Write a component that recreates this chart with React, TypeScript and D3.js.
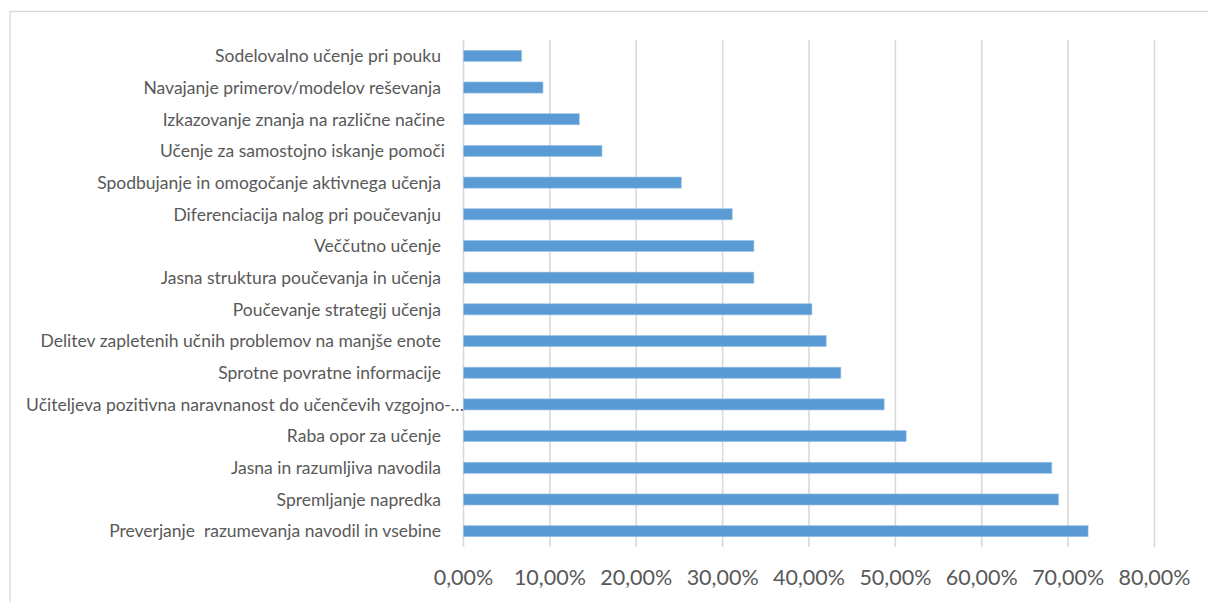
import React from "react";
import * as d3 from "d3";

// Categories, top to bottom
const categories: string[] = [
  "Sodelovalno učenje pri pouku ",
  "Navajanje primerov/modelov reševanja ",
  "Izkazovanje znanja na različne načine",
  "Učenje za samostojno iskanje pomoči",
  "Spodbujanje in omogočanje aktivnega učenja ",
  "Diferenciacija nalog pri poučevanju ",
  "Veččutno učenje ",
  "Jasna struktura poučevanja in učenja ",
  "Poučevanje strategij učenja ",
  "Delitev zapletenih učnih problemov na manjše enote ",
  "Sprotne povratne informacije ",
  "Učiteljeva pozitivna naravnanost do učenčevih vzgojno-…",
  "Raba opor za učenje ",
  "Jasna in razumljiva navodila ",
  "Spremljanje napredka ",
  "Preverjanje  razumevanja navodil in vsebine ",
];

// Share of respondents (fraction)
const values: number[] = [
  0.0673, 0.092, 0.134, 0.1603, 0.2521, 0.3111, 0.3362, 0.3362,
  0.4034, 0.4199, 0.4369, 0.487, 0.5125, 0.6811, 0.6889, 0.7231,
];

const xTicks: number[] = [0, 0.1, 0.2, 0.3, 0.4, 0.5, 0.6, 0.7, 0.8];

const W = 1208;
const H = 602;
const FONT = "Lato, 'Open Sans', sans-serif";
const TEXT = "#595959";
const GRID = "#D9D9D9";
const BAR = "#5B9BD5";

const fmt = (v: number) => (v * 100).toFixed(2).replace(".", ",") + "%";

export default function App() {
  const x = d3.scaleLinear().domain([0, 0.8]).range([463.5, 1154.5]);
  const y = d3
    .scaleBand<string>()
    .domain(categories)
    .range([40, 547])
    .paddingInner(0.65)
    .paddingOuter(0.325);

  return (
    <svg
      width={W}
      height={H}
      style={{ position: "absolute", left: 0, top: 0, background: "#fff" }}
    >
      <rect x={10} y={11.5} width={1220} height={620} fill="#fff" stroke={GRID} strokeWidth={1.3} />

      {/* vertical gridlines */}
      {xTicks.map((t) => (
        <line
          key={"g" + t}
          x1={x(t)}
          x2={x(t)}
          y1={40}
          y2={547}
          stroke={GRID}
          strokeWidth={1.6}
        />
      ))}

      {/* bars */}
      {categories.map((c, i) => (
        <rect
          key={"b" + i}
          x={x(0)}
          y={y(c)}
          width={x(values[i]) - x(0)}
          height={y.bandwidth()}
          fill={BAR}
          stroke="#9DC3E6"
          strokeWidth={0.6}
        />
      ))}

      {/* category labels; a trailing space in the name leaves a small gap */}
      {categories.map((c, i) => {
        const truncated = c.endsWith("…");
        const spaced = c.endsWith(" ");
        return (
          <text
            key={"l" + i}
            x={truncated ? 464 : spaced ? 441 : 445}
            y={(y(c) as number) + y.bandwidth() / 2}
            dy="0.36em"
            textAnchor="end"
            fontFamily={FONT}
            fontSize={17.5}
            fill={TEXT}
            style={{ whiteSpace: "pre" }}
          >
            {c.trimEnd()}
          </text>
        );
      })}

      {/* x tick labels */}
      {xTicks.map((t) => (
        <text
          key={"t" + t}
          x={x(t)}
          y={585}
          textAnchor="middle"
          fontFamily={FONT}
          fontSize={21.5}
          fill={TEXT}
        >
          {fmt(t)}
        </text>
      ))}
    </svg>
  );
}
